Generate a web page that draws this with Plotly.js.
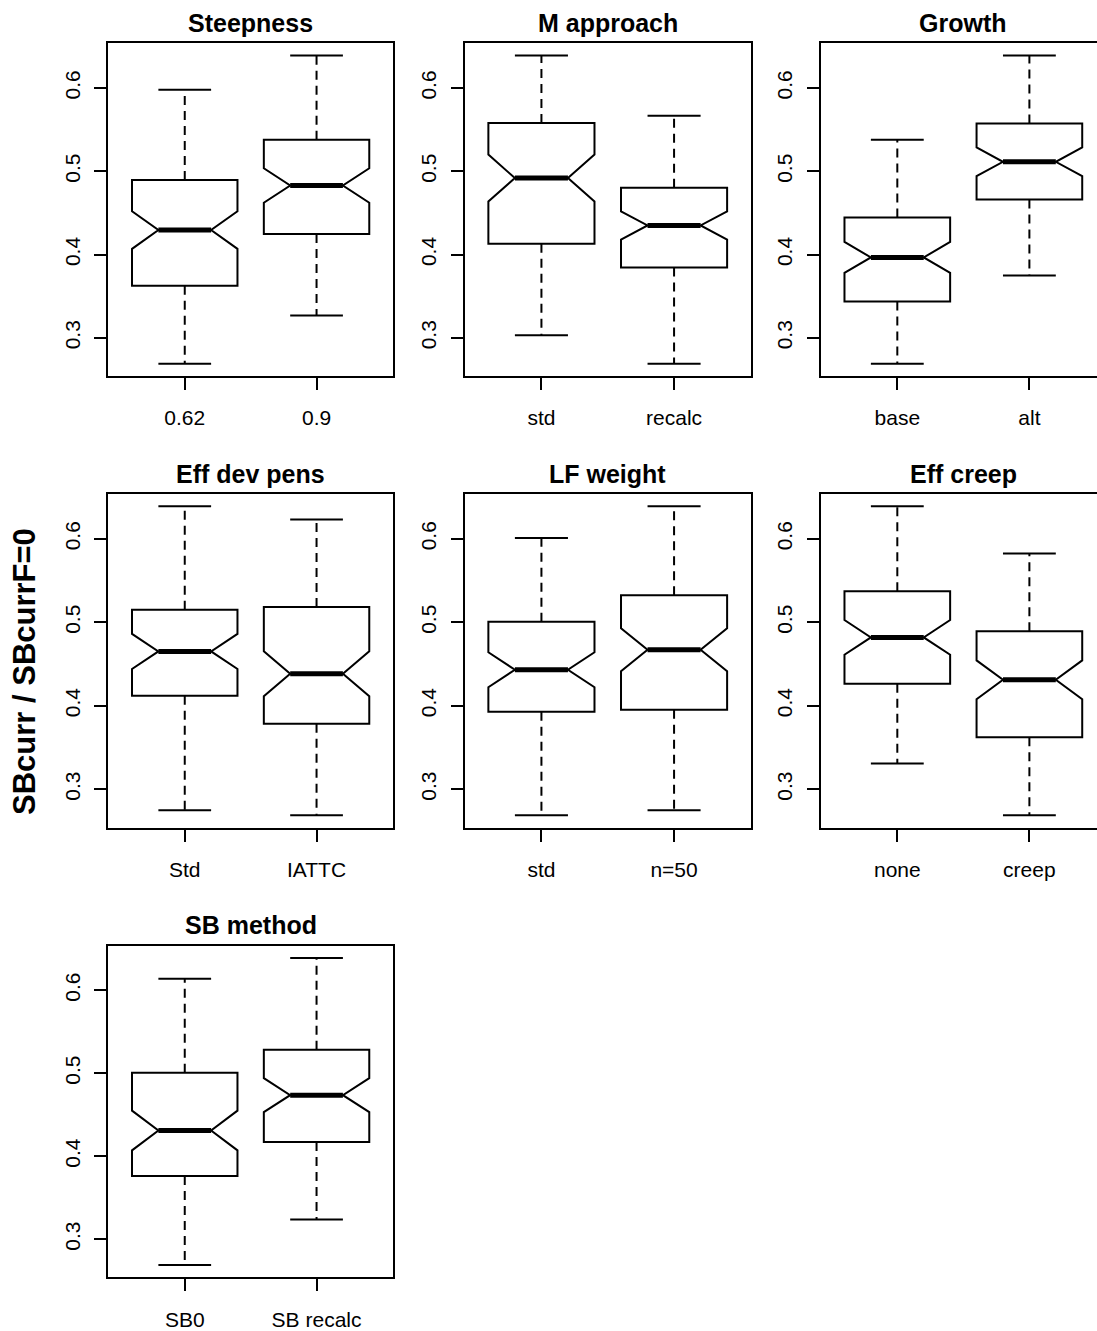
<!DOCTYPE html>
<html>
<head>
<meta charset="utf-8">
<script src="https://cdn.plot.ly/plotly-3.0.1.min.js"></script>
<style>
html, body { margin: 0; padding: 0; overflow: hidden; background: #fff; }
#chart { width: 1110px; height: 1331px; }
</style>
</head>
<body>
<div id="chart"></div>
<script>
// ---- data ----
const panelTitles = ['Steepness', 'M approach', 'Growth', 'Eff dev pens', 'LF weight', 'Eff creep', 'SB method'];
const levelLabels = ['0.62', '0.9', 'std', 'recalc', 'base', 'alt', 'Std', 'IATTC', 'std', 'n=50', 'none', 'creep', 'SB0', 'SB recalc'];
const whiskerLow  = [0.269, 0.327, 0.303, 0.269, 0.269, 0.375, 0.275, 0.269, 0.269, 0.275, 0.331, 0.269, 0.269, 0.324];
const boxLow      = [0.3625, 0.4247, 0.413, 0.3845, 0.3437, 0.4662, 0.412, 0.3784, 0.3928, 0.3952, 0.4264, 0.3624, 0.3763, 0.4172];
const medians     = [0.4295, 0.483, 0.4919, 0.435, 0.3966, 0.5115, 0.4652, 0.4384, 0.4432, 0.4672, 0.482, 0.4312, 0.4311, 0.4737];
const boxHigh     = [0.4897, 0.5379, 0.558, 0.4803, 0.4446, 0.5575, 0.5152, 0.5184, 0.5008, 0.5324, 0.5372, 0.4892, 0.5007, 0.5285];
const whiskerHigh = [0.598, 0.639, 0.639, 0.5667, 0.5379, 0.639, 0.639, 0.6232, 0.6012, 0.639, 0.639, 0.5824, 0.6139, 0.639];
const notchHalf   = [0.0226, 0.0207, 0.0282, 0.017, 0.0186, 0.0173, 0.021, 0.027, 0.021, 0.0258, 0.0208, 0.0232, 0.0239, 0.0205];
const yTicks = [0.3, 0.4, 0.5, 0.6];
const yLabel = 'SBcurr / SBcurrF=0';

// ---- layout geometry ----
const W = 1110, H = 1331;
const colX = [[108.3, 393], [464.5, 751], [820.7, 1106]];
const rowY = [[43.3, 376], [494, 827.5], [945.7, 1277.3]];
const titleY = [23, 474, 925];
const boxWidth = 0.8, capHalf = 0.2, medHalf = 0.2;

const allLow = Math.min(...whiskerLow), allHigh = Math.max(...whiskerHigh);
const pad = 0.04 * (allHigh - allLow);
const yRange = [allLow - pad, allHigh + pad];
const xRange = [0.5 - 0.08, 2.5 + 0.08];

const FONT = 'Liberation Sans, Arial, sans-serif';
const data = [];
const layout = {
  width: W, height: H,
  margin: {l: 0, r: 0, t: 0, b: 0},
  paper_bgcolor: '#fff', plot_bgcolor: '#fff',
  showlegend: false,
  font: {family: FONT, color: '#000'},
  annotations: []
};

const boxTraces = [], lineTraces = [];
panelTitles.forEach((title, p) => {
  const r = Math.floor(p / 3), c = p % 3;
  const sfx = p === 0 ? '' : String(p + 1);
  const xa = 'x' + sfx, ya = 'y' + sfx;
  const i0 = 2 * p, idx = [i0, i0 + 1];
  const pos = [1, 2];

  boxTraces.push({
    type: 'box', xaxis: xa, yaxis: ya,
    x: pos,
    q1: idx.map(i => boxLow[i]),
    median: idx.map(i => medians[i]),
    q3: idx.map(i => boxHigh[i]),
    lowerfence: idx.map(i => boxLow[i]),
    upperfence: idx.map(i => boxHigh[i]),
    notchspan: idx.map(i => notchHalf[i]),
    notched: true, notchwidth: 0.25,
    width: boxWidth, whiskerwidth: 0,
    boxpoints: false,
    fillcolor: '#fff',
    line: {color: '#000', width: 2},
    hoverinfo: 'skip'
  });

  // dashed whiskers
  const wx = [], wy = [];
  const cx = [], cy = [];
  const mx = [], my = [];
  idx.forEach((i, k) => {
    const x = pos[k];
    wx.push(x, x, null, x, x, null);
    wy.push(boxHigh[i], whiskerHigh[i], null, boxLow[i], whiskerLow[i], null);
    cx.push(x - capHalf, x + capHalf, null, x - capHalf, x + capHalf, null);
    cy.push(whiskerHigh[i], whiskerHigh[i], null, whiskerLow[i], whiskerLow[i], null);
    mx.push(x - medHalf, x + medHalf, null);
    my.push(medians[i], medians[i], null);
  });
  lineTraces.push({type: 'scatter', mode: 'lines', xaxis: xa, yaxis: ya, x: wx, y: wy,
    line: {color: '#000', width: 2, dash: '9px,6px'}, hoverinfo: 'skip'});
  lineTraces.push({type: 'scatter', mode: 'lines', xaxis: xa, yaxis: ya, x: cx, y: cy,
    line: {color: '#000', width: 2}, hoverinfo: 'skip'});
  lineTraces.push({type: 'scatter', mode: 'lines', xaxis: xa, yaxis: ya, x: mx, y: my,
    line: {color: '#000', width: 5}, hoverinfo: 'skip'});

  const common = {
    showgrid: false, zeroline: false,
    showline: true, mirror: true, linecolor: '#000', linewidth: 2,
    ticks: 'outside', ticklen: 12, tickwidth: 2, tickcolor: '#000',
    tickfont: {family: FONT, size: 21, color: '#000'},
    fixedrange: true
  };
  layout['xaxis' + sfx] = Object.assign({}, common, {
    domain: [colX[c][0] / W, colX[c][1] / W],
    anchor: ya, range: xRange,
    tickmode: 'array', tickvals: pos, ticktext: idx.map(i => levelLabels[i]),
    ticklabelstandoff: 10
  });
  layout['yaxis' + sfx] = Object.assign({}, common, {
    domain: [1 - rowY[r][1] / H, 1 - rowY[r][0] / H],
    anchor: xa, range: yRange,
    tickmode: 'array', tickvals: yTicks, ticktext: yTicks.map(v => v.toFixed(1)),
    tickangle: -90, ticklabelstandoff: 6
  });
  layout.annotations.push({
    xref: 'paper', yref: 'paper',
    x: (colX[c][0] + colX[c][1]) / 2 / W, y: 1 - titleY[r] / H,
    xanchor: 'center', yanchor: 'middle', showarrow: false,
    text: '<b>' + title + '</b>',
    font: {family: FONT, size: 25, color: '#000'}
  });
});

layout.annotations.push({
  xref: 'paper', yref: 'paper', x: 24 / W, y: 1 - 672 / H,
  xanchor: 'center', yanchor: 'middle', showarrow: false, textangle: -90,
  text: '<b>' + yLabel + '</b>',
  font: {family: FONT, size: 31, color: '#000'}
});

Plotly.newPlot('chart', boxTraces.concat(lineTraces), layout, {displayModeBar: false, staticPlot: true});
</script>
</body>
</html>
